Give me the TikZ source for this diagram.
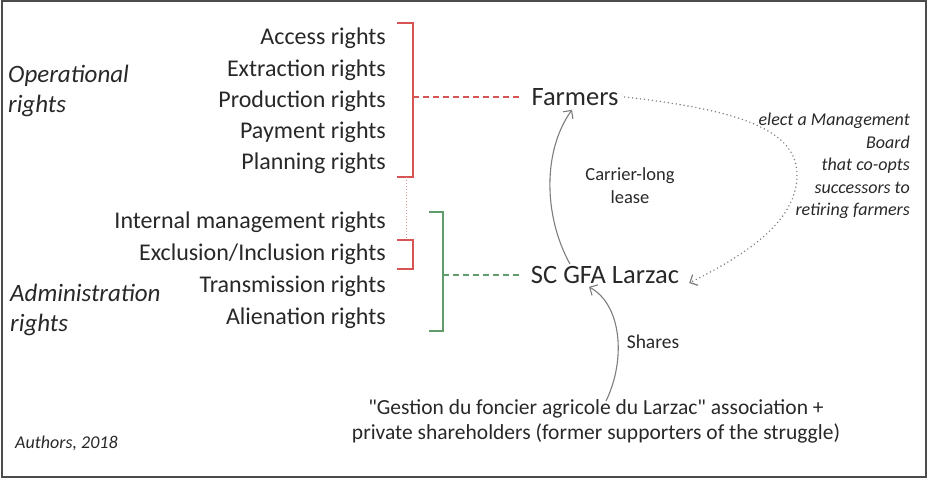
\documentclass[tikz,border=0pt]{standalone}
\usepackage{fontspec}
\setmainfont{Carlito}[Ligatures=TeXOff]
\usetikzlibrary{arrows.meta}

\definecolor{bracketred}{RGB}{214,84,84}
\definecolor{bracketgreen}{RGB}{96,156,106}
\definecolor{textgray}{RGB}{40,40,40}
\definecolor{arrowgray}{RGB}{125,125,125}

\begin{document}
\begin{tikzpicture}[%
      x=1pt, y=-1pt,
      every node/.style={text=textgray, font=\fontsize{24}{26}\selectfont, inner sep=2pt},
      rightslbl/.style={anchor=east},
      actor/.style={font=\fontsize{26.5}{30}\selectfont},
      side/.style={anchor=west, align=left, font=\fontsize{25}{30}\selectfont\itshape},
      redline/.style={draw=bracketred, line width=1.3pt},
      greenline/.style={draw=bracketgreen, line width=1.3pt},
      leasearrow/.style={draw=arrowgray, line width=1.1pt, -{Straight Barb[length=6pt,width=12pt]}},
      ]
      \useasboundingbox (0,0) rectangle (928,479);
      \draw [color=black!70, line width=1.5pt] (2,1) rectangle (926,477);

      % rights
      \node[rightslbl] (acc) at (388,38) {Access rights};
      \node[rightslbl] (ext) at (388,70) {Extraction rights};
      \node[rightslbl] (pro) at (388,101) {Production rights};
      \node[rightslbl] (pay) at (388,132) {Payment rights};
      \node[rightslbl] (pla) at (388,163) {Planning rights};
      \node[rightslbl] (int) at (388,222) {Internal management rights};
      \node[rightslbl] (exc) at (388,254) {Exclusion/Inclusion rights};
      \node[rightslbl] (tra) at (388,286) {Transmission rights};
      \node[rightslbl] (ali) at (388,318) {Alienation rights};

      \node[side] (oper) at (6,91) {Operational\\rights};
      \node[side] (admin) at (8,310) {Administration\\rights};
      \node[anchor=west, font=\fontsize{18}{20}\selectfont\itshape] (auth) at (13,443) {Authors, 2018};

      % brackets
      \coordinate (rtop) at (413,23);
      \coordinate (rbot) at (413,177);
      \coordinate (rmid) at (413,97);
      \coordinate (stop) at (413,240);
      \coordinate (sbot) at (413,269);
      \coordinate (gtop) at (443,212);
      \coordinate (gbot) at (443,331);
      \coordinate (gmid) at (443,275);
      \draw[redline] ([xshift=-16pt]rtop) -- (rtop) -- (rbot) -- ([xshift=-16pt]rbot);
      \draw[redline] ([xshift=-16pt]stop) -- (stop) -- (sbot) -- ([xshift=-16pt]sbot);
      \draw[greenline] ([xshift=-14pt]gtop) -- (gtop) -- (gbot) -- ([xshift=-14pt]gbot);
      \draw[draw=bracketred!60, line width=1pt, dotted] ([xshift=-7pt]rbot) -- ([xshift=-7pt]stop);

      % actors
      \node[actor] (farm) at (575,97) {Farmers};
      \node[actor] (gfa) at (605,275) {SC GFA Larzac};
      \node[align=center, font=\fontsize{21.5}{25}\selectfont] (shareholders) at (596,421) {"Gestion du foncier agricole du Larzac" association +\\private shareholders (former supporters of the struggle)};

      \draw[redline, dash pattern=on 6pt off 4pt, shorten >=8pt] (rmid) -- (farm.west);
      \draw[greenline, dash pattern=on 6pt off 4pt, shorten >=10pt] (gmid) -- (gfa.west);

      % arrows
      \draw[leasearrow] ([xshift=-35pt]gfa.north) .. controls (543,215) and (543,150) .. ([xshift=-3pt,yshift=-2pt]farm.south);
      \draw[leasearrow] ([yshift=-4pt]shareholders.north -| 606,0) .. controls (626,360) and (622,305) .. ([xshift=-16pt,yshift=-1pt]gfa.south);
      \draw[draw=arrowgray, line width=1.6pt, line cap=round, dash pattern=on 0pt off 4pt, -{Straight Barb[length=6pt,width=12pt,line width=1.2pt]}]
            ([xshift=4pt]farm.east) .. controls (740,110) and (797,130) .. (797,175)
            .. controls (797,222) and (745,255) .. ([xshift=8pt,yshift=-8pt]gfa.east);

      \node[align=center, font=\fontsize{18.5}{23}\selectfont] (leaselbl) at (630,186) {Carrier-long\\lease};
      \node[font=\fontsize{19.5}{22}\selectfont] (shareslbl) at (653,342) {Shares};
      \node[align=right, anchor=east, font=\fontsize{18}{22.5}\selectfont\itshape] (elect) at (912,166) {elect a Management\\Board\\that co-opts\\successors to\\retiring farmers};
\end{tikzpicture}
\end{document}
